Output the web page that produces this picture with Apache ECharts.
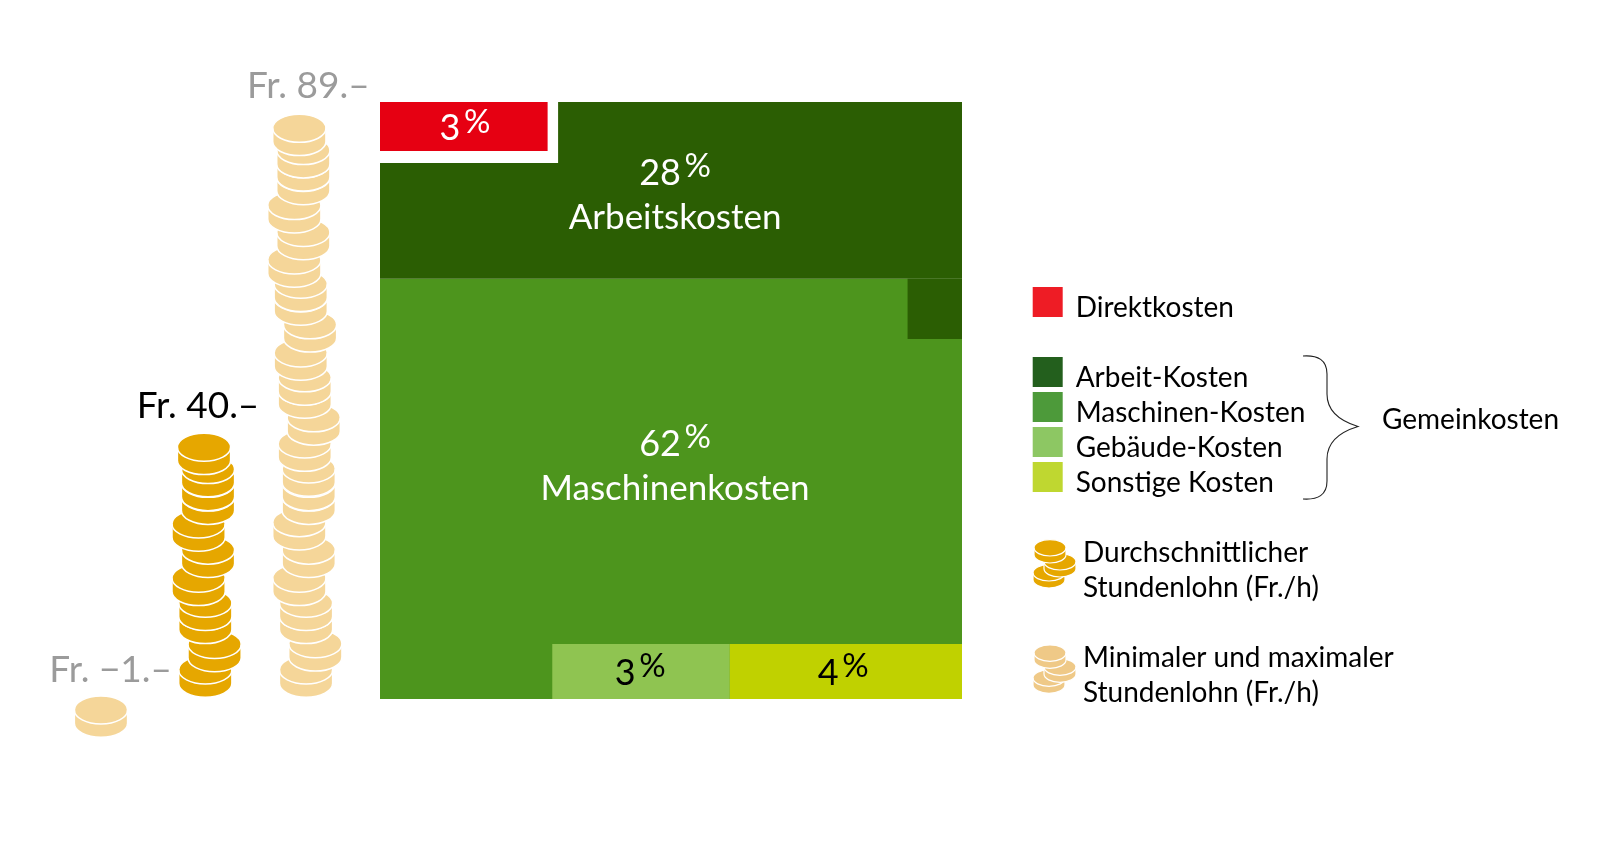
<!DOCTYPE html>
<html>
<head>
<meta charset="utf-8">
<title>Kosten und Stundenlohn</title>
<script src="https://cdn.jsdelivr.net/npm/echarts@6/dist/echarts.min.js"></script>
<style>
  html, body { margin: 0; background: #fff; }
  #main { width: 1600px; height: 854px; }
</style>
</head>
<body>
<div id="main"></div>
<script>
// cost shares in percent
var costNames = ["Direktkosten", "Arbeit-Kosten", "Maschinen-Kosten", "Gebäude-Kosten", "Sonstige Kosten"];
var costShares = [3, 28, 62, 3, 4];
var costCaptions = ["", "Arbeitskosten", "Maschinenkosten", "", ""];

// hourly wages in Fr.
var wageNames = ["Minimal", "Durchschnitt", "Maximal"];
var wageValues = [-1, 40, 89];

// height in Fr. at the foot of each coin, read bottom up
var minCoins = [-6.1];
var avgCoins = [0, 3.9, 8.2, 10.2, 14, 18.3, 22.3, 26.4, 28.5, 30.6, 34];
var maxCoins = [0, 4, 8.2, 10.2, 14, 18.3, 22.5, 26.4, 28.5, 30.7, 34.5, 38.5, 42.6, 44.6,
  48.4, 52.7, 56.8, 58.9, 62.6, 66.8, 70.9, 75.2, 77.3, 79.3, 82.7];

// tile extents on the 0-100 square: xFrom, xTo, yFrom, yTo
var direktTiles = [[0, 28.8, 91.8, 100]];
var arbeitTiles = [[30.6, 100, 89.8, 100], [0, 100, 70.4, 89.8], [90.65, 100, 60.3, 70.4]];
var maschinenTiles = [[0, 100, 0, 70.4]];
var gebaeudeTiles = [[29.6, 60.1, 0, 9.2]];
var sonstigeTiles = [[60.1, 100, 0, 9.2]];

var FONT = "Lato";
var tileColors = ["#e60012", "#2b5e03", "#4d951d", "#8fc451", "#c0d100"];
var swatchColors = ["#ee1c25", "#235f1d", "#4d9a3a", "#8dc763", "#bfd730"];
var GOLD = "#e6a700", PALE = "#f5d699", PALE_ICON = "#efc987";

// sideways wobble of the stack in px, bottom coin first
var wobble = [0, 9.3, 0, 0, -6.7, 2.7, -6.7, 2.7, 2.7, 2.7, -1.3, 7.7, -1.3, -1.3,
  -5.3, 4, -5.3, -5.3, -11.7, -2.7, -11.7, -2.7, -2.7, -2.7, -6.7];

function coinChildren(cx, foot, rx, ry, side, color, lw) {
  var cy = foot - side - ry;
  return [
    {
      type: "path",
      shape: {
        pathData: "M" + (cx - rx) + " " + cy +
          "A" + rx + " " + ry + " 0 0 1 " + (cx + rx) + " " + cy +
          "L" + (cx + rx) + " " + (cy + side) +
          "A" + rx + " " + ry + " 0 0 1 " + (cx - rx) + " " + (cy + side) + "Z"
      },
      style: { fill: color, stroke: "#fff", lineWidth: lw }
    },
    {
      type: "path",
      shape: {
        pathData: "M" + (cx - rx) + " " + cy +
          "A" + rx + " " + ry + " 0 0 0 " + (cx + rx) + " " + cy
      },
      style: { fill: null, stroke: "#fff", lineWidth: lw }
    }
  ];
}

function coinSeries(name, categoryIndex, coins, color, shift) {
  return {
    name: name,
    type: "custom",
    xAxisIndex: 0,
    yAxisIndex: 0,
    clip: false,
    silent: true,
    data: coins.map(function (v) { return [categoryIndex, v]; }),
    renderItem: function (params, api) {
      var p = api.coord([api.value(0), api.value(1)]);
      var dx = coins.length > 1 ? wobble[params.dataIndex] : 0;
      return { type: "group", children: coinChildren(p[0] + dx + shift, p[1], 26.6, 14, 13.3, color, 1.5) };
    }
  };
}

function tileSeries(name, tiles, color) {
  return {
    name: name,
    type: "custom",
    xAxisIndex: 1,
    yAxisIndex: 1,
    silent: true,
    itemStyle: { color: color },
    data: tiles,
    renderItem: function (params, api) {
      var a = api.coord([api.value(0), api.value(3)]);
      var b = api.coord([api.value(1), api.value(2)]);
      return {
        type: "rect",
        shape: { x: a[0], y: a[1], width: b[0] - a[0], height: b[1] - a[1] },
        style: { fill: color }
      };
    }
  };
}

// percent labels sit on the tiles, "%" raised like in the original
function shareLabel(i) {
  var s = "{n|" + costShares[i] + "}{g| }{p|%}";
  if (costCaptions[i]) s += "\n{c|" + costCaptions[i] + "}";
  return s;
}
function labelRich(color) {
  return {
    n: { fontFamily: FONT, fontSize: 36, lineHeight: 46, color: color },
    g: { fontFamily: FONT, fontSize: 14, lineHeight: 46, color: color },
    p: { fontFamily: FONT, fontSize: 33, lineHeight: 36, verticalAlign: "top", color: color },
    c: { fontFamily: FONT, fontSize: 35, lineHeight: 44, color: color }
  };
}

var shareAnchors = [[14.6, 95.5], [50.7, 84.4], [50.7, 39], [44.7, 4.3], [79.6, 4.3]];
var shareInk = ["#fff", "#fff", "#fff", "#000", "#000"];

var wageOffsets = [[9, -27], [-6, -29], [2, -28]];
var wageInk = ["#9b9b9b", "#000", "#9b9b9b"];
var wageAnchor = [0, 40, 89];

function wageText(v) {
  return v < 0 ? "Fr. −" + Math.abs(v) + ".–" : "Fr. " + v + ".–";
}

// legend decoration that is no data: brace and the small coin heaps
function decoration() {
  var ch = [];
  [[0, GOLD], [105.3, PALE_ICON]].forEach(function (o) {
    ch = ch.concat(coinChildren(1049, 588 + o[0], 16, 8.2, 7, o[1], 1.2));
    ch = ch.concat(coinChildren(1060, 577 + o[0], 16, 8.2, 7, o[1], 1.2));
    ch = ch.concat(coinChildren(1050, 563 + o[0], 16, 8.2, 7, o[1], 1.2));
  });
  ch.push({
    type: "path",
    shape: {
      pathData: "M1303 356C1318 355 1327 360 1327 374L1327 394C1327 412 1340 421 1358 426.5" +
        "C1340 432 1327 441 1327 459L1327 481C1327 495 1318 500 1303 499"
    },
    style: { fill: null, stroke: "#222", lineWidth: 1.1 }
  });
  return { type: "group", children: ch };
}

function plainText(x, y, text) {
  return {
    type: "text",
    x: x,
    y: y,
    style: { text: text, fontFamily: FONT, fontSize: 28, fill: "#000", verticalAlign: "middle", align: "left" }
  };
}

// rows come out taller than the swatch because of the text padding, negative gap brings them back
function swatchLegend(names, top) {
  return {
    left: 1032.7,
    top: top,
    orient: "vertical",
    icon: "rect",
    itemWidth: 30,
    itemHeight: 30,
    itemGap: -5,
    selectedMode: false,
    padding: 0,
    formatter: "{t|{name}}",
    textStyle: {
      rich: {
        t: { fontFamily: FONT, fontSize: 28, color: "#000", lineHeight: 20, padding: [12, 0, 0, 8] }
      }
    },
    data: names.map(function (n) {
      return { name: n, itemStyle: { color: swatchColors[costNames.indexOf(n)] } };
    })
  };
}

var chart = echarts.init(document.getElementById("main"));

chart.setOption({
  backgroundColor: "#fff",
  animation: false,
  grid: [
    { left: 50.5, width: 307, top: 107.8, height: 655 },
    { left: 380, width: 582, top: 102, height: 597 }
  ],
  xAxis: [
    { type: "category", gridIndex: 0, data: wageNames, show: false },
    { type: "value", gridIndex: 1, min: 0, max: 100, show: false }
  ],
  yAxis: [
    { type: "value", gridIndex: 0, min: -10, max: 90, show: false },
    { type: "value", gridIndex: 1, min: 0, max: 100, show: false }
  ],
  legend: [
    swatchLegend(["Direktkosten"], 282),
    swatchLegend(["Arbeit-Kosten", "Maschinen-Kosten", "Gebäude-Kosten", "Sonstige Kosten"], 352)
  ],
  graphic: [
    plainText(1382, 420, "Gemeinkosten"),
    plainText(1083, 553, "Durchschnittlicher"),
    plainText(1083, 588, "Stundenlohn (Fr./h)"),
    plainText(1083, 658, "Minimaler und maximaler"),
    plainText(1083, 693, "Stundenlohn (Fr./h)")
  ],
  series: [
    tileSeries(costNames[2], maschinenTiles, tileColors[2]),
    tileSeries(costNames[1], arbeitTiles, tileColors[1]),
    tileSeries(costNames[0], direktTiles, tileColors[0]),
    tileSeries(costNames[3], gebaeudeTiles, tileColors[3]),
    tileSeries(costNames[4], sonstigeTiles, tileColors[4]),
    coinSeries("Minimal", 0, minCoins, PALE, -0.7),
    coinSeries("Durchschnitt", 1, avgCoins, GOLD, 1.3),
    coinSeries("Maximal", 2, maxCoins, PALE, -0.3),
    {
      type: "scatter",
      xAxisIndex: 1,
      yAxisIndex: 1,
      symbolSize: 0,
      silent: true,
      itemStyle: { opacity: 1 },
      data: costShares.map(function (v, i) {
        return {
          value: shareAnchors[i],
          label: {
            show: true,
            position: "inside",
            align: "center",
            verticalAlign: "middle",
            formatter: shareLabel(i),
            rich: labelRich(shareInk[i])
          }
        };
      })
    },
    {
      type: "scatter",
      xAxisIndex: 0,
      yAxisIndex: 0,
      symbolSize: 0,
      silent: true,
      itemStyle: { opacity: 1 },
      data: wageValues.map(function (v, i) {
        return {
          value: [i, wageAnchor[i]],
          label: {
            show: true,
            position: "inside",
            align: "center",
            verticalAlign: "middle",
            offset: wageOffsets[i],
            formatter: wageText(v),
            fontFamily: FONT,
            fontSize: 37,
            color: wageInk[i]
          }
        };
      })
    },
    {
      type: "custom",
      coordinateSystem: "none",
      silent: true,
      data: [0],
      renderItem: function () { return decoration(); }
    }
  ]
});
</script>
</body>
</html>
